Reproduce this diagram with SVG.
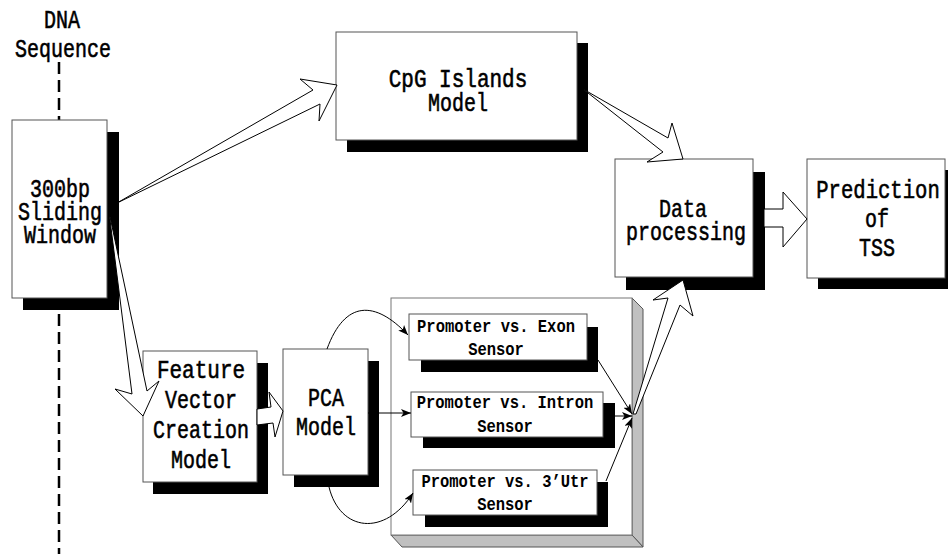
<svg xmlns="http://www.w3.org/2000/svg" width="948" height="554" viewBox="0 0 948 554">
  <defs>
    <style>
      .box { fill: #fff; stroke: #555; stroke-width: 1; }
      .shadow { fill: #000; }
      .t { font-family: "Liberation Mono", "DejaVu Sans Mono", monospace; font-size: 20px; text-anchor: middle; fill: #000; stroke: #000; stroke-width: 0.45; }
      .s { font-size: 15.5px; font-weight: bold; stroke-width: 0; }
      .blk { fill: #fff; stroke: #000; stroke-width: 1; stroke-linejoin: miter; }
      .thin { fill: none; stroke: #000; stroke-width: 1; }
      .face { fill: #c0c0c0; stroke: #555; stroke-width: 1; }
      .dash { fill: none; stroke: #000; stroke-width: 2.5; stroke-dasharray: 12 6; }
    </style>
    <marker id="head" viewBox="0 0 10 8" refX="10" refY="4" markerWidth="10" markerHeight="8" markerUnits="userSpaceOnUse" orient="auto">
      <path d="M0,0 L10,4 L0,8 L2.5,4 Z" fill="#000"/>
    </marker>
  </defs>

  <rect width="948" height="554" fill="#fff"/>

  <!-- DNA sequence axis -->
  <g id="dna-sequence">
    <line class="dash" x1="59" y1="62" x2="59" y2="554"/>
    <text class="t" transform="translate(62 28) scale(1 1.3)">DNA</text>
    <text class="t" transform="translate(63 57) scale(1 1.3)">Sequence</text>
  </g>

  <!-- 300bp sliding window -->
  <g id="sliding-window">
    <rect class="shadow" x="23" y="132" width="96" height="178"/>
    <rect class="box" x="12" y="120" width="95" height="178"/>
    <text class="t" transform="translate(60 197) scale(1 1.3)">300bp</text>
    <text class="t" transform="translate(60 220) scale(1 1.3)">Sliding</text>
    <text class="t" transform="translate(60 243) scale(1 1.3)">Window</text>
  </g>

  <!-- CpG islands model -->
  <g id="cpg-islands">
    <rect class="shadow" x="347" y="43" width="241" height="109"/>
    <rect class="box" x="336" y="32" width="241" height="108"/>
    <text class="t" transform="translate(458 87) scale(1.05 1.3)">CpG Islands</text>
    <text class="t" transform="translate(458 111) scale(1 1.3)">Model</text>
  </g>

  <!-- Data processing -->
  <g id="data-processing">
    <rect class="shadow" x="626" y="172" width="139" height="118"/>
    <rect class="box" x="615" y="159" width="138" height="118"/>
    <text class="t" transform="translate(683 217) scale(1 1.3)">Data</text>
    <text class="t" transform="translate(686 240) scale(1 1.3)">processing</text>
  </g>

  <!-- Prediction of TSS -->
  <g id="prediction">
    <rect class="shadow" x="818" y="170" width="140" height="119"/>
    <rect class="box" x="807" y="159" width="138" height="119"/>
    <text class="t" transform="translate(878 198) scale(1.03 1.3)">Prediction</text>
    <text class="t" transform="translate(877 227) scale(1 1.3)">of</text>
    <text class="t" transform="translate(877 256) scale(1 1.3)">TSS</text>
  </g>

  <!-- Feature vector creation model -->
  <g id="feature-vector">
    <rect class="shadow" x="153" y="363" width="115" height="131"/>
    <rect class="box" x="143" y="351" width="114" height="131"/>
    <text class="t" transform="translate(201 378) scale(1.05 1.3)">Feature</text>
    <text class="t" transform="translate(201 408) scale(1 1.3)">Vector</text>
    <text class="t" transform="translate(201 438) scale(1 1.3)">Creation</text>
    <text class="t" transform="translate(201 468) scale(1 1.3)">Model</text>
  </g>

  <!-- PCA model -->
  <g id="pca-model">
    <rect class="shadow" x="294" y="361" width="85" height="126"/>
    <rect class="box" x="283" y="349" width="85" height="126"/>
    <text class="t" transform="translate(326 406) scale(1 1.3)">PCA</text>
    <text class="t" transform="translate(326 435) scale(1 1.3)">Model</text>
  </g>

  <!-- Sensor panel (raised tray) -->
  <g id="sensor-panel">
    <polygon class="face" points="632,298 643,309 643,547 632,535"/>
    <polygon class="face" points="391,535 632,535 643,547 402,547"/>
    <rect x="391" y="298" width="241" height="237" fill="#fff" stroke="#777" stroke-width="1"/>
  </g>

  <g id="sensor-exon">
    <rect class="shadow" x="421" y="327" width="177" height="45"/>
    <rect class="box" x="409" y="314" width="178" height="46"/>
    <text class="t s" transform="translate(496 332) scale(1 1.22)">Promoter vs. Exon</text>
    <text class="t s" transform="translate(496 355) scale(1 1.22)">Sensor</text>
  </g>

  <g id="sensor-intron">
    <rect class="shadow" x="423" y="403" width="192" height="45"/>
    <rect class="box" x="411" y="392" width="192" height="45"/>
    <text class="t s" transform="translate(505 408) scale(1 1.22)">Promoter vs. Intron</text>
    <text class="t s" transform="translate(505 432) scale(1 1.22)">Sensor</text>
  </g>

  <g id="sensor-utr">
    <rect class="shadow" x="425" y="482" width="183" height="45"/>
    <rect class="box" x="413" y="470" width="184" height="45"/>
    <text class="t s" transform="translate(505 487) scale(1 1.22)">Promoter vs. 3’Utr</text>
    <text class="t s" transform="translate(505 510) scale(1 1.22)">Sensor</text>
  </g>

  <!-- Connectors -->
  <g id="connectors">
    <!-- window to CpG model -->
    <polygon class="blk" points="117,203 313,90 300,79 337,85 319,121 320,104"/>
    <!-- window to feature vector model -->
    <polygon class="blk" points="109,212 132,394 115,389 143,416 159,381 147,391"/>
    <!-- feature vector to PCA -->
    <polygon class="blk" points="257,409 271,407 269,392 283,411 275,437 273,423 257,425"/>
    <!-- CpG model to data processing -->
    <polygon class="blk" points="583,89 668,138 672,123 683,159 647,162 663,152"/>
    <!-- sensors to data processing -->
    <polygon class="blk" points="633,414 668,298 653,300 683,280 693,316 680,305 636,414"/>
    <!-- data processing to prediction -->
    <polygon class="blk" points="764,209 783,209 783,192 807,219 783,247 783,227 764,227"/>

    <!-- PCA fan-out to sensors -->
    <path class="thin" d="M327,349 C345,300 375,300 408,335" marker-end="url(#head)"/>
    <path class="thin" d="M368,413 L411,413" marker-end="url(#head)"/>
    <path class="thin" d="M329,487 C340,532 385,537 413,493" marker-end="url(#head)"/>

    <!-- sensors merge -->
    <path class="thin" d="M598,360 L632,414" marker-end="url(#head)"/>
    <path class="thin" d="M615,416 L632,416" marker-end="url(#head)"/>
    <path class="thin" d="M606,481 L632,418" marker-end="url(#head)"/>
  </g>
</svg>
